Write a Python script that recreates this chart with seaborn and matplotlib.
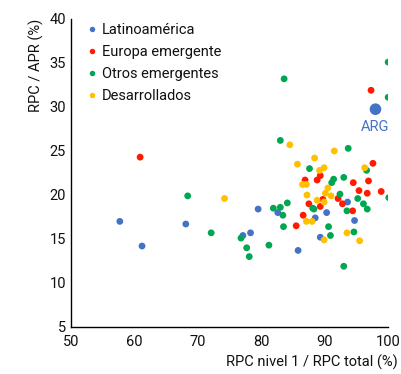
import matplotlib
matplotlib.use("Agg")
import matplotlib.pyplot as plt
import seaborn as sns
import pandas as pd

# ---- data ----
lat_x = [57.7, 61.2, 68.1, 77.1, 78.3, 79.5, 82.6, 85.8, 88.5, 90.3, 89.3, 93.6, 94.7]
lat_y = [17.0, 14.2, 16.7, 15.4, 15.7, 18.4, 18.0, 13.7, 17.4, 18.0, 15.2, 19.2, 17.1]

eur_x = [60.9, 85.5, 86.6, 86.9, 87.5, 88.8, 89.3, 89.3, 89.7, 92.1, 92.8, 94.4, 94.5,
         95.4, 96.7, 96.9, 97.6, 97.3, 98.9]
eur_y = [24.3, 16.5, 17.7, 21.7, 19.0, 21.7, 22.2, 18.7, 19.5, 19.6, 19.0, 18.2, 21.4,
         20.5, 20.2, 21.6, 23.6, 31.9, 20.4]

otr_x = [68.4, 72.1, 76.8, 77.7, 78.1, 81.2, 81.9, 83.0, 83.4, 83.5, 84.1, 83.0, 83.6,
         87.6, 88.1, 88.3, 90.6, 90.9, 91.1, 91.4, 92.4, 93.0, 93.0, 93.5, 93.7,
         94.6, 95.2, 96.1, 96.6, 96.7, 100.1, 100.0, 100.0]
otr_y = [19.9, 15.7, 15.1, 14.0, 13.0, 14.3, 18.5, 18.6, 17.7, 16.4, 19.1, 26.2, 33.2,
         23.0, 18.5, 18.4, 16.4, 15.4, 21.4, 21.8, 20.1, 22.0, 11.9, 18.2, 25.3,
         15.8, 19.6, 19.0, 22.8, 18.4, 19.7, 31.1, 35.1]

des_x = [74.2, 84.5, 85.7, 86.5, 87.1, 87.2, 87.1, 88.0, 88.4, 88.8, 89.2, 89.9, 89.9,
         90.1, 90.5, 91.0, 89.9, 91.5, 93.5, 95.5, 96.3]
des_y = [19.6, 25.7, 23.5, 21.2, 21.2, 20.0, 17.0, 17.0, 24.2, 19.4, 22.8, 23.1, 19.2,
         20.2, 20.8, 19.9, 14.9, 25.0, 15.7, 14.8, 23.1]

arg_x = [98.0]
arg_y = [29.75]
arg_label = "ARG"

groups = ["Latinoamérica", "Europa emergente", "Otros emergentes", "Desarrollados"]
colors = ["#4472C4", "#FF1A00", "#00A651", "#FFC000"]

xticks = [50, 60, 70, 80, 90, 100]
yticks = [5, 10, 15, 20, 25, 30, 35, 40]

df = pd.concat([
    pd.DataFrame({"x": lat_x, "y": lat_y, "g": groups[0]}),
    pd.DataFrame({"x": eur_x, "y": eur_y, "g": groups[1]}),
    pd.DataFrame({"x": otr_x, "y": otr_y, "g": groups[2]}),
    pd.DataFrame({"x": des_x, "y": des_y, "g": groups[3]}),
], ignore_index=True)

sns.set_style("white")
plt.rcParams["font.family"] = ["Roboto", "DejaVu Sans"]

fig = plt.figure(figsize=(4.01, 3.74), dpi=100)
ax = fig.add_axes([0.177, 0.1257, 0.791, 0.8235])

sns.scatterplot(data=df, x="x", y="y", hue="g", hue_order=groups,
                palette=colors, s=24, edgecolor="none", ax=ax, legend=True)
ax.scatter(arg_x, arg_y, s=70, color=colors[0], edgecolor="none", zorder=3)
ax.annotate(arg_label, (arg_x[0], arg_y[0]), xytext=(0, -8), textcoords="offset points",
            ha="center", va="top", color=colors[0], fontsize=10.5)

ax.set_xlim(50, 100)
ax.set_ylim(5, 40)
ax.set_xticks(xticks)
ax.set_yticks(yticks)
ax.tick_params(direction="in", length=3, width=1, colors="black", labelsize=10.5,
               labelcolor="#111111")
ax.tick_params(axis="x", pad=6)
for side in ["top", "right"]:
    ax.spines[side].set_visible(False)
for side in ["left", "bottom"]:
    ax.spines[side].set_color("black")
    ax.spines[side].set_linewidth(1)

ax.set_xlabel("")
ax.set_ylabel("RPC / APR (%)", loc="top", fontsize=10.5, color="#111111")
fig.text(0.992, 0.012, "RPC nivel 1 / RPC total (%)", ha="right", va="bottom",
         fontsize=10.5, color="#111111")

leg = ax.legend(loc="upper left", bbox_to_anchor=(0.03, 1.0), frameon=False,
                fontsize=10.5, handletextpad=0.15, handlelength=1.0, labelspacing=0.55,
                borderaxespad=0.0, borderpad=0.3, markerscale=0.8)
for t in leg.get_texts():
    t.set_color("#111111")

fig.savefig("out.png", dpi=100)
